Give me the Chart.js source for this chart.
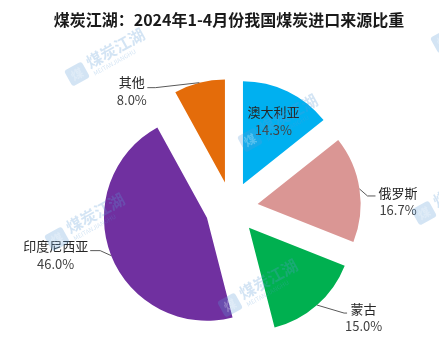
<!DOCTYPE html>
<html>
<head>
<meta charset="utf-8">
<script src="https://cdn.jsdelivr.net/npm/chart.js@4.4.1/dist/chart.umd.min.js"></script>
<style>
  html, body { margin: 0; padding: 0; background: #ffffff; }
  #wrap { width: 439px; height: 350px; }
</style>
</head>
<body>
<div id="wrap"><canvas id="c" width="439" height="350"></canvas></div>
<script>
// Import sources of coal, Jan–Apr 2024 (share of total, %)
const categories = ['澳大利亚', '俄罗斯', '蒙古', '印度尼西亚', '其他'];
const shares = [14.3, 16.7, 15.0, 46.0, 8.0];
const sliceColors = ['#00B0F0', '#DA9694', '#00B050', '#7030A0', '#E46C0A'];
const chartTitle = '煤炭江湖：2024年1-4月份我国煤炭进口来源比重';
const brandName = '煤炭江湖';
const brandLatin = 'MEITANJIANGHU';

// Visual settings
const PIE_RADIUS = 103;
const EXPLODE = 26.4;
const CJK = '"Noto Sans CJK SC", "Noto Sans", sans-serif';

// Label placement for each slice: inside labels sit at a fraction of the radius,
// outside labels hang off a leader line drawn from the middle of the slice's arc.
const labelLayout = [
  { inside: true, r: 0.68 },
  { elbow: [8, 7], end: [16, 7], text: [38.5, 12.5] },
  { elbow: [27, 8], end: [30, 8], text: [46.5, 12.25] },
  { elbow: [-11, -5], end: [-21, -5], text: [-55.5, -0.75] },
  { elbow: [-44, 5], end: [-52, 5], text: [-67.5, 8.25] }
];

// Push each slice away from the centre along its bisector
const explodePlugin = {
  id: 'explodeSlices',
  afterDatasetUpdate(chart, args) {
    args.meta.data.forEach(arc => {
      const mid = (arc.startAngle + arc.endAngle) / 2;
      arc.x += Math.cos(mid) * EXPLODE;
      arc.y += Math.sin(mid) * EXPLODE;
    });
  }
};

const labelPlugin = {
  id: 'sliceLabels',
  afterDatasetsDraw(chart) {
    const ctx = chart.ctx;
    const meta = chart.getDatasetMeta(0);
    ctx.save();
    ctx.font = '13px ' + CJK;
    ctx.textAlign = 'center';
    ctx.textBaseline = 'middle';
    meta.data.forEach((arc, i) => {
      const mid = (arc.startAngle + arc.endAngle) / 2;
      const R = arc.outerRadius;
      const name = categories[i];
      const pct = shares[i].toFixed(1) + '%';
      const lay = labelLayout[i];
      let cx, cy;
      if (lay.inside) {
        cx = arc.x + Math.cos(mid) * R * lay.r;
        cy = arc.y + Math.sin(mid) * R * lay.r;
      } else {
        const px = arc.x + Math.cos(mid) * R;
        const py = arc.y + Math.sin(mid) * R;
        ctx.strokeStyle = '#595959';
        ctx.lineWidth = 1;
        ctx.beginPath();
        ctx.moveTo(px, py);
        ctx.lineTo(px + lay.elbow[0], py + lay.elbow[1]);
        ctx.lineTo(px + lay.end[0], py + lay.end[1]);
        ctx.stroke();
        cx = px + lay.text[0];
        cy = py + lay.text[1];
      }
      ctx.fillStyle = '#262626';
      ctx.fillText(name, cx, cy - 8.75);
      ctx.fillStyle = '#404040';
      ctx.fillText(pct, cx, cy + 8.75);
    });
    ctx.restore();
  }
};

// Faint brand marks tiled across the canvas
function drawMark(ctx, x, y) {
  ctx.save();
  ctx.translate(x, y);
  ctx.rotate(-29 * Math.PI / 180);
  ctx.globalAlpha = 0.27;
  ctx.fillStyle = '#5B9BD5';
  ctx.beginPath();
  if (ctx.roundRect) ctx.roundRect(-10, -9, 20, 18, 3); else ctx.rect(-10, -9, 20, 18);
  ctx.fill();
  ctx.fillStyle = '#ffffff';
  ctx.font = 'bold 12px ' + CJK;
  ctx.textAlign = 'center';
  ctx.textBaseline = 'middle';
  ctx.fillText('煤', 0, 0);
  ctx.fillStyle = '#5B9BD5';
  ctx.textAlign = 'left';
  ctx.font = 'bold 16px ' + CJK;
  ctx.fillText(brandName, 14, -4);
  ctx.font = '6px ' + CJK;
  ctx.fillText(brandLatin, 15, 8);
  ctx.restore();
}

const overlayPlugin = {
  id: 'titleAndMarks',
  afterDraw(chart) {
    const ctx = chart.ctx;
    ctx.save();
    ctx.font = 'bold 16px ' + CJK;
    ctx.fillStyle = '#1a1a1a';
    ctx.textAlign = 'center';
    ctx.textBaseline = 'middle';
    ctx.fillText(chartTitle, 229, 20);
    ctx.restore();
    const marks = [[77, 74], [250, 140], [424, 213], [57, 239], [230, 305], [443, 41]];
    marks.forEach(m => drawMark(ctx, m[0], m[1]));
  }
};

new Chart(document.getElementById('c'), {
  type: 'pie',
  data: {
    labels: categories,
    datasets: [{
      data: shares,
      backgroundColor: sliceColors,
      borderWidth: 0,
      radius: PIE_RADIUS
    }]
  },
  options: {
    responsive: false,
    animation: false,
    events: [],
    layout: { padding: { left: 24, right: 0, top: 66, bottom: 0 } },
    plugins: {
      legend: { display: false },
      tooltip: { enabled: false },
      title: { display: false }
    }
  },
  plugins: [explodePlugin, labelPlugin, overlayPlugin]
});
</script>
</body>
</html>
